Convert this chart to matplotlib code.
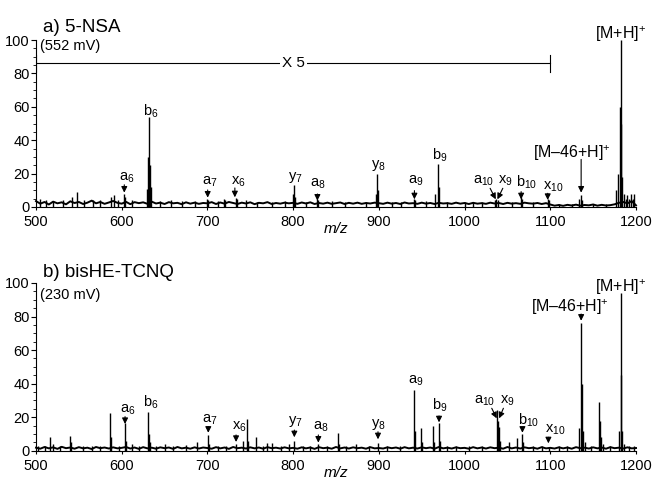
import numpy as np
import matplotlib
matplotlib.use('Agg')
import matplotlib.pyplot as plt
from matplotlib.ticker import MultipleLocator

matplotlib.rcParams['font.family'] = ['Liberation Sans', 'DejaVu Sans']
matplotlib.rcParams['mathtext.fontset'] = 'custom'
matplotlib.rcParams['mathtext.rm'] = 'Liberation Sans'
matplotlib.rcParams['mathtext.it'] = 'Liberation Sans:italic'
matplotlib.rcParams['mathtext.default'] = 'regular'

# ---- data --------------------------------------------------------------
mz_grid = np.arange(500, 1201, 5)

# a) 5-NSA, baseline (500-1100 shown x5)
noise_a = [3.5, 2.0, 3.0, 1.5, 3.2, 2.2, 2.8, 1.6, 3.4, 2.4, 3.0, 1.8, 2.6, 3.8, 2.2, 3.0, 1.9, 2.7, 3.6, 2.5,
           2.0, 3.1, 1.7, 2.9, 2.3, 2.8, 1.9, 3.2, 2.1, 2.6, 1.8, 2.9, 2.2, 2.5, 1.7, 2.8, 2.0, 2.6, 1.9, 2.4,
           2.2, 2.9, 1.8, 2.7, 2.0, 3.0, 2.4, 1.8, 2.6, 2.1, 2.8, 1.7, 2.5, 2.2, 2.9, 1.8, 2.4, 2.0, 2.6, 2.2,
           2.5, 1.9, 2.7, 2.1, 2.8, 1.8, 2.4, 2.0, 2.6, 1.9, 2.3, 2.7, 1.8, 2.5, 2.0, 2.6, 1.9, 2.4, 2.1, 2.6,
           2.3, 1.9, 2.6, 2.0, 2.4, 1.8, 2.7, 2.1, 2.3, 1.9, 2.6, 2.0, 2.4, 1.8, 2.5, 2.1, 2.3, 1.9, 2.6, 2.0,
           2.4, 1.8, 2.5, 2.0, 2.3, 1.9, 2.6, 2.1, 2.4, 1.8, 2.5, 2.0, 2.3, 1.9, 2.6, 2.2, 2.0, 2.4, 1.8, 2.3,
           1.5, 0.8, 1.2, 0.7, 1.3, 0.9, 1.4, 0.8, 1.2, 1.0, 1.5, 0.8, 1.3, 0.9, 1.1, 1.6, 2.5, 3.0, 2.2, 3.5, 1.0]

# b) bisHE-TCNQ, baseline
noise_b = [1.8, 1.2, 2.2, 1.4, 2.0, 1.1, 2.3, 1.5, 1.9, 1.2, 2.1, 1.4, 1.8, 1.0, 2.2, 1.5, 1.9, 1.3, 2.0, 1.4,
           1.7, 2.2, 1.3, 1.9, 1.1, 2.1, 1.4, 1.8, 1.2, 2.0, 1.5, 1.9, 1.1, 2.2, 1.4, 1.8, 1.2, 2.0, 1.3, 1.9,
           1.6, 1.2, 2.1, 1.4, 1.9, 1.1, 2.2, 1.5, 1.8, 1.3, 2.0, 1.4, 1.9, 1.2, 2.1, 1.5, 1.8, 1.3, 2.0, 1.4,
           1.7, 1.2, 2.0, 1.4, 1.9, 1.1, 2.1, 1.5, 1.8, 1.2, 2.2, 1.4, 1.9, 1.3, 2.0, 1.5, 1.8, 1.2, 2.1, 1.4,
           1.6, 1.3, 2.0, 1.5, 1.9, 1.2, 2.1, 1.4, 1.8, 1.3, 2.0, 1.5, 1.9, 1.2, 2.2, 1.4, 1.8, 1.3, 2.0, 1.5,
           1.7, 1.2, 2.1, 1.4, 1.9, 1.3, 2.0, 1.5, 1.8, 1.2, 2.2, 1.4, 1.9, 1.3, 2.0, 1.5, 1.8, 1.2, 2.1, 1.4,
           1.7, 1.3, 2.0, 1.4, 1.9, 1.2, 2.1, 1.5, 1.8, 1.3, 2.0, 1.4, 1.9, 1.2, 2.1, 1.5, 1.8, 1.3, 2.0, 1.4, 1.6]

peak_mz_a = [505, 512, 520, 531, 542, 548, 556, 567, 575, 588, 591, 596, 603, 604, 612,
             629, 631, 632, 633, 634, 645, 658, 670, 685, 700, 701, 712, 719, 720, 733, 734,
             745, 758, 775, 790, 800, 801, 802, 815, 828, 829, 845, 860, 885, 897, 898, 899,
             915, 926, 941, 942, 955, 966, 969, 970, 980, 1000, 1010, 1020, 1035, 1037, 1039,
             1055, 1066, 1067, 1080, 1097, 1098,
             1110, 1125, 1134, 1136, 1137, 1150, 1165, 1177, 1179, 1181, 1182, 1183, 1184,
             1186, 1188, 1190, 1192, 1194, 1196, 1198]
peak_int_a = [5, 4, 3.5, 4, 6, 9, 4, 4, 4, 6, 7, 4, 8, 6, 4,
              11, 30, 54, 25, 12, 3.5, 4, 3.5, 3.5, 5, 4, 3.5, 4.5, 4, 5.5, 5,
              4, 3, 3, 3.5, 8, 13, 6, 3, 5, 4, 3.5, 3, 3, 8, 20, 10,
              3, 3, 5, 4, 3.5, 8, 26, 12, 3, 3, 3, 3, 4, 5, 4,
              3, 6, 4.5, 3, 5, 4,
              2, 2, 5, 7, 4, 2, 2, 10, 20, 60, 100, 50, 18,
              8, 5, 7, 5, 8, 5, 8]

peak_mz_b = [502, 510, 516, 520, 528, 540, 541, 555, 565, 575, 586, 587, 597, 604, 605, 612, 620,
             631, 632, 633, 640, 650, 660, 675, 688, 701, 702, 712, 722, 733, 742, 746, 747,
             757, 765, 770, 775, 786, 795, 801, 812, 820, 829, 840, 852, 853, 862, 873, 888,
             899, 910, 925, 941, 942, 949, 950, 963, 964, 970, 971, 980, 990, 1005, 1020,
             1038, 1039, 1040, 1041, 1052, 1061, 1067, 1068, 1080, 1090, 1098, 1110, 1120,
             1134, 1136, 1137, 1138, 1140, 1148, 1157, 1158, 1159, 1161, 1170, 1180, 1182,
             1183, 1184, 1186, 1192, 1198]
peak_int_b = [3, 3, 8.3, 4, 3, 9, 5, 3, 3, 3, 22.5, 8, 3, 16.5, 6, 4, 3,
              23, 10, 5, 3, 4, 3, 3.5, 5, 9.5, 4, 3, 3, 4, 6, 19, 6,
              8, 3, 4.5, 4.5, 3, 4, 5.5, 3, 3, 4, 3, 10.7, 4, 3, 4, 3,
              4.5, 3, 3, 36, 12, 13.5, 5, 15, 5, 16.7, 6, 3, 3, 3, 3,
              24, 18, 14, 6, 5, 7.5, 10, 5, 3, 3, 2.5, 3, 3,
              13.5, 76, 40, 12, 5, 3, 29, 18, 8, 4, 3, 12, 94,
              45, 12, 4, 3, 3]

# fragment labels: text, label m/z, label height, arrow m/z (tail, tip), arrow heights (tail, tip)
labels_a = ['a$_{6}$', 'b$_{6}$', 'a$_{7}$', 'x$_{6}$', 'y$_{7}$', 'a$_{8}$', 'y$_{8}$', 'a$_{9}$',
            'b$_{9}$', 'a$_{10}$', 'x$_{9}$', 'b$_{10}$', 'x$_{10}$', '[M\u201346+H]$^{+}$', '[M+H]$^{+}$']
label_mz_a = [605.6, 634, 703, 735.7, 803, 829, 900, 943, 971.4, 1022.8, 1047, 1073, 1103.6, 1125, 1182]
label_y_a = [15.6, 54.5, 13.2, 13.2, 16.2, 12.2, 23.3, 14.2, 28.1, 14.2, 14.2, 12.2, 10.2, 29.2, 100.4]
arrow_a = [(603, 603, 13.3, 8.6), (700.3, 700.3, 10.2, 5.6), (732, 732, 11.4, 5.8),
           (828.3, 828.3, 7.8, 3.8), (941.5, 941.5, 9.8, 4.6), (1029.8, 1036.4, 11.2, 4.6),
           (1044.6, 1038.3, 11.2, 4.6), (1066, 1066, 9.2, 4.6), (1097, 1097, 8.2, 4.2),
           (1136, 1136, 28.5, 8.6)]

labels_b = labels_a
label_mz_b = [606.8, 634, 703, 737, 803, 832, 900, 943, 971.4, 1024, 1049.6, 1074.9, 1105.6, 1122.4, 1181.5]
label_y_b = [22.7, 26.2, 16.7, 12.7, 15.9, 12.3, 13.9, 39.8, 24.3, 27.8, 28.3, 15.3, 10.7, 82.9, 94.8]
arrow_b = [(603.9, 603.9, 20.3, 15.9), (701, 701, 14.3, 10.7), (733.4, 733.4, 9.4, 5.2),
           (801.4, 801.4, 12.3, 8.0), (829.4, 829.4, 9.4, 4.8), (899, 899, 11.3, 6.8),
           (970.2, 970.2, 20.7, 16.9), (1031.7, 1037.5, 25.3, 19.3), (1045.3, 1040.3, 25.3, 19.3),
           (1067.5, 1067.5, 13.4, 10.7), (1097.8, 1097.8, 8.0, 4.4), (1136, 1136, 81.5, 77.5)]

titles = ['a) 5-NSA', 'b) bisHE-TCNQ']
signal = ['(552 mV)', '(230 mV)']
zoom_range = (500, 1100)
zoom_factor = 5

# ---- plot --------------------------------------------------------------
fig = plt.figure(figsize=(6.54, 4.79), dpi=100)
W, H = 654.0, 479.0
ax1 = fig.add_axes([36 / W, 1 - 207 / H, 600 / W, 167 / H])
ax2 = fig.add_axes([36 / W, 1 - 450.7 / H, 600 / W, 167.7 / H])

panels = [(ax1, noise_a, peak_mz_a, peak_int_a, labels_a, label_mz_a, label_y_a, arrow_a, 0.94),
          (ax2, noise_b, peak_mz_b, peak_int_b, labels_b, label_mz_b, label_y_b, arrow_b, 0.903)]

for i, (ax, noise, pmz, pint, labs, lmz, ly, arrs, sig_y) in enumerate(panels):
    ax.plot(mz_grid, noise, color='black', lw=1.4, clip_on=False)
    ax.vlines(pmz, 0, pint, color='black', lw=1.0, clip_on=False)
    ax.set_xlim(500, 1200)
    ax.set_ylim(0, 100)
    for s in ['top', 'right']:
        ax.spines[s].set_visible(False)
    for s in ['left', 'bottom']:
        ax.spines[s].set_linewidth(0.8)
    ax.xaxis.set_major_locator(MultipleLocator(100))
    ax.yaxis.set_major_locator(MultipleLocator(20))
    ax.yaxis.set_minor_locator(MultipleLocator(5))
    ax.tick_params(axis='y', which='major', length=3.5, width=0.8, pad=1, labelsize=10.5)
    ax.tick_params(axis='y', which='minor', length=2, width=0.6)
    ax.tick_params(axis='x', which='major', length=2, width=0.8, pad=4, labelsize=10.5)
    ax.text(0.5, -0.13, 'm/z', transform=ax.transAxes, ha='center', va='center',
            style='italic', fontsize=11)
    ax.text(0.0117, 1.05 - 0.012 * i, titles[i], transform=ax.transAxes, ha='left',
            va='baseline', fontsize=13.5)
    ax.text(0.007, sig_y, signal[i], transform=ax.transAxes, ha='left', va='baseline',
            fontsize=10.5)
    for t, x, y in zip(labs, lmz, ly):
        fs = 11.5 if t.startswith('[') else 10.5
        ax.text(x, y, t, ha='center', va='baseline', fontsize=fs)
    for x0, x1, y0, y1 in arrs:
        ax.annotate('', xy=(x1, y1), xytext=(x0, y0),
                    arrowprops=dict(arrowstyle='-|>,head_length=0.5,head_width=0.25',
                                    mutation_scale=7, color='black', lw=0.8,
                                    shrinkA=0, shrinkB=0))

# magnification bracket on panel a
ax1.plot(zoom_range, [86, 86], color='black', lw=0.8)
for x in zoom_range:
    ax1.plot([x, x], [81, 91], color='black', lw=0.8)
ax1.text(sum(zoom_range) / 2, 86, 'X %d' % zoom_factor, ha='center', va='center',
         fontsize=11, bbox=dict(facecolor='white', edgecolor='none', pad=1.5))

fig.savefig('out.png', dpi=100)
